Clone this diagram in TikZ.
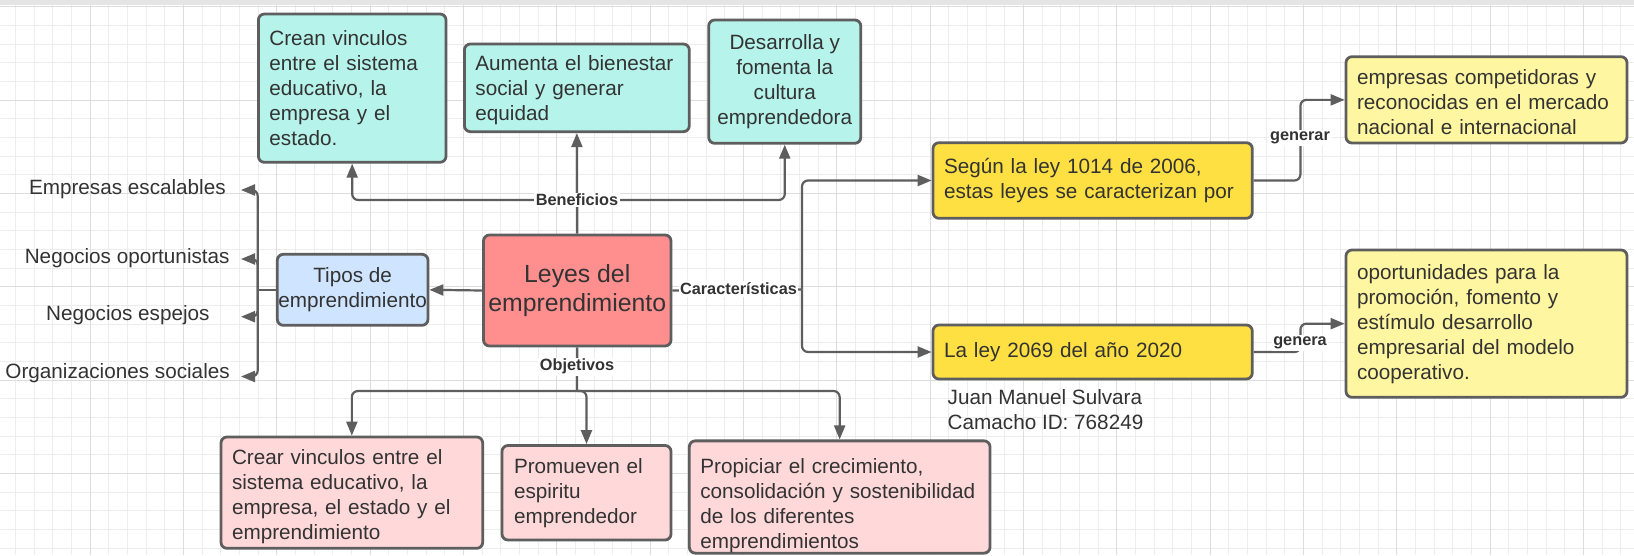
\documentclass[tikz,border=0pt]{standalone}
\usepackage{fontspec}
\setmainfont{Liberation Sans}
\usetikzlibrary{arrows.meta}
\definecolor{lcline}{RGB}{94,94,94}
\definecolor{lctext}{RGB}{51,51,51}
\definecolor{cteal}{RGB}{181,243,235}
\definecolor{cblue}{RGB}{207,228,255}
\definecolor{cred}{RGB}{255,143,143}
\definecolor{cpink}{RGB}{255,216,218}
\definecolor{cyel}{RGB}{255,224,66}
\definecolor{clyel}{RGB}{255,246,161}
\definecolor{gminor}{RGB}{237,237,237}
\definecolor{gmajor}{RGB}{221,221,221}
\definecolor{topband}{RGB}{229,229,230}
\newcommand\boxfont{\fontsize{20.7}{25}\selectfont}
\newcommand\leyfont{\fontsize{24.8}{29}\selectfont}
\newcommand\lblfont{\bfseries\fontsize{16.3}{18}\selectfont}
\begin{document}
\begin{tikzpicture}[x=1pt,y=-1pt,
  box/.style={draw=lcline, line width=2.8pt, rounded corners=6pt, text=lctext, inner ysep=0pt, font=\boxfont},
  lbox/.style={box, align=left, inner xsep=11pt},
  cbox/.style={box, align=center, inner xsep=0pt},
  conn/.style={draw=lcline, line width=2.2pt, rounded corners=6pt, -{Triangle[length=14pt,width=11pt]}},
  plainconn/.style={draw=lcline, line width=2.2pt, rounded corners=6pt},
  lbl/.style={fill=white, text=lctext, font=\lblfont, inner sep=1.5pt},
  item/.style={text=lctext, font=\boxfont, inner sep=0pt, anchor=west},
  gridminor/.style={draw=gminor, line width=1pt},
  gridmajor/.style={draw=gmajor, line width=1pt}]
\useasboundingbox (0,0) rectangle (1634,555);
\fill[white] (0,0) rectangle (1634,555);
% grid
\foreach \i in {0,...,88} \draw[gridminor] ({-3.33+18.667*\i},5) -- ({-3.33+18.667*\i},555);
\foreach \j in {0,...,29} \draw[gridminor] (0,{6.67+18.667*\j}) -- (1634,{6.67+18.667*\j});
\foreach \i in {0,...,16} \draw[gridmajor] ({90+93.333*\i},5) -- ({90+93.333*\i},555);
\foreach \j in {0,...,5} \draw[gridmajor] (0,{6.67+93.333*\j}) -- (1634,{6.67+93.333*\j});
\fill[topband] (0,0) rectangle (1634,5);

% boxes
\node[lbox, fill=cteal, minimum width=187.6pt, minimum height=148.3pt, text width=165.6pt] (crean) at (352.2,88.15)
  {Crean vinculos\\entre el sistema\\educativo, la\\empresa y el\\estado.};
\node[lbox, fill=cteal, minimum width=224.9pt, minimum height=87.7pt, text width=202.9pt, text height=20pt] (aumenta) at (576.85,87.85)
  {Aumenta el bienestar\\social y generar\\equidad};
\node[cbox, fill=cteal, minimum width=152.1pt, minimum height=123.3pt] (desarrolla) at (784.75,81.65)
  {Desarrolla y\\fomenta la\\cultura\\emprendedora};
\node[cbox, fill=cred, minimum width=187.5pt, minimum height=111pt, font=\leyfont] (leyes) at (577.25,290.5)
  {Leyes del\\emprendimiento};
\node[cbox, fill=cblue, minimum width=150.7pt, minimum height=71pt] (tipos) at (352.65,289.8)
  {Tipos de\\emprendimiento};
\node[lbox, fill=cpink, minimum width=261.7pt, minimum height=111.3pt, text width=239.7pt, text height=23pt] (crear) at (351.85,492.65)
  {Crear vinculos entre el\\sistema educativo, la\\empresa, el estado y el\\emprendimiento};
\node[lbox, fill=cpink, minimum width=169pt, minimum height=94.5pt, text width=145pt, inner xsep=12pt] (promueven) at (586.5,492.75)
  {Promueven el\\espiritu\\emprendedor};
\node[lbox, fill=cpink, minimum width=300.7pt, minimum height=102.6pt, text width=278.7pt, text height=33pt] (propiciar) at (839.65,497)
  {Propiciar el crecimiento,\\consolidación y sostenibilidad\\de los diferentes\\emprendimientos};
\node[lbox, fill=cyel, minimum width=319.3pt, minimum height=75.6pt, text width=297.3pt] (segun) at (1092.65,180.5)
  {Según la ley 1014 de 2006,\\estas leyes se caracterizan por};
\node[lbox, fill=cyel, minimum width=319.3pt, minimum height=54pt, text width=297.3pt] (laley) at (1092.65,352)
  {La ley 2069 del año 2020};
\node[lbox, fill=clyel, minimum width=281pt, minimum height=86.3pt, text width=259pt, text height=20pt] (empcomp) at (1486.5,99.85)
  {empresas competidoras y\\reconocidas en el mercado\\nacional e internacional};
\node[lbox, fill=clyel, minimum width=281pt, minimum height=147.3pt, text width=259pt] (oport) at (1486.5,323.65)
  {oportunidades para la\\promoción, fomento y\\estímulo desarrollo\\empresarial del modelo\\cooperativo.};

% free texts
\node[item] (e1) at (28.8,189.3) {Empresas escalables};
\node[item] (e2) at (24.6,258) {Negocios oportunistas};
\node[item] (e3) at (46,315.5) {Negocios espejos};
\node[item] (e4) at (5.2,373) {Organizaciones sociales};
\node[item, align=left] (autor) at (947.5,409.2) {Juan Manuel Sulvara\\Camacho ID: 768249};

% junction coordinates
\coordinate (jb) at (577,200);
\coordinate (jo) at (577,391);
\coordinate (jc) at (802,289.5);
\coordinate (jt) at (257.7,289.8);
\coordinate (a1) at (241,190);
\coordinate (a2) at (241,259);
\coordinate (a3) at (241,316.7);
\coordinate (a4) at (241,376.5);

% Beneficios
\draw[conn] (leyes.north) -- (aumenta.south);
\draw[conn] (jb) -| (crean.south);
\draw[conn] (jb) -| (desarrolla.south);
% Objetivos
\draw[plainconn] (leyes.south) -- (jo);
\draw[conn] (jo) -| (crear.north);
\draw[conn] (jo) -| (promueven.north);
\draw[conn] (jo) -| (propiciar.north);
% Tipos
\draw[conn] (leyes.west) -- (tipos.east);
\draw[plainconn] (tipos.west) -- (jt);
\draw[conn] (jt) |- (a1);
\draw[conn] (jt) |- (a2);
\draw[conn] (jt) |- (a3);
\draw[conn] (jt) |- (a4);
% Caracteristicas
\draw[plainconn] (leyes.east) -- (jc);
\draw[conn] (jc) |- (segun.west);
\draw[conn] (jc) |- (laley.west);
% generar / genera
\draw[conn] (segun.east) -- ++(46.7,0) |- (empcomp.west);
\draw[conn] (laley.east) -- ++(46.7,0) |- (oport.west);

% labels
\node[lbl] (lben) at (577,200) {Beneficios};
\node[lbl] (lobj) at (577,366.7) {Objetivos};
\node[lbl] (lcar) at (738.5,289) {Características};
\node[lbl] (lgen) at (1300,138) {generar};
\node[lbl] (lgna) at (1300,343) {genera};
\end{tikzpicture}
\end{document}
